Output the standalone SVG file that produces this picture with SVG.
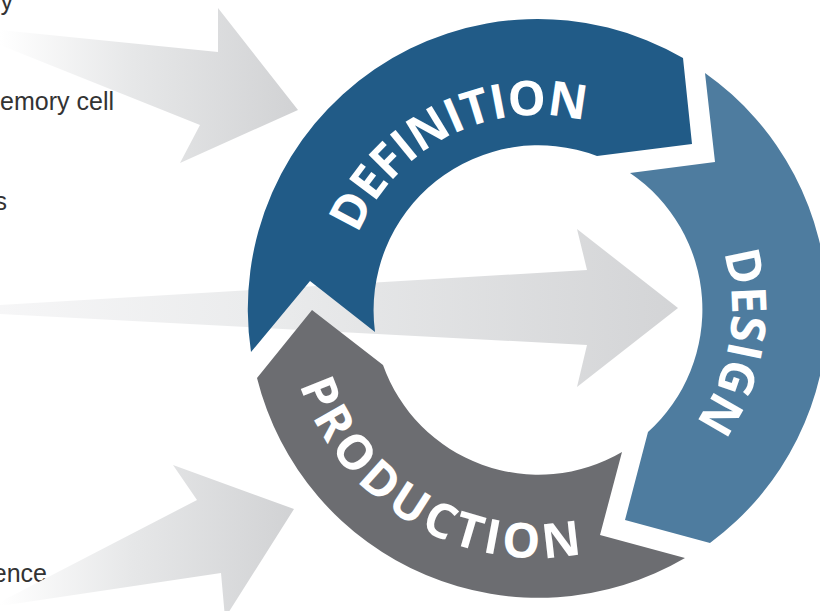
<svg xmlns="http://www.w3.org/2000/svg" width="820" height="611" viewBox="0 0 820 611">
  <defs>
    <linearGradient id="gArrow" x1="0" y1="0" x2="1" y2="0">
      <stop offset="0" stop-color="#ffffff"/>
      <stop offset="0.45" stop-color="#e6e7e8"/>
      <stop offset="1" stop-color="#d1d2d4"/>
    </linearGradient>
    <linearGradient id="gMid" x1="0" y1="0" x2="1" y2="0">
      <stop offset="0" stop-color="#f6f6f7"/>
      <stop offset="0.4" stop-color="#eaebec"/>
      <stop offset="1" stop-color="#d3d4d6"/>
    </linearGradient>
    <path id="pDef" d="M369,406 A194,194 0 0 1 440,141 A194,194 0 0 1 705,212"/>
    <path id="pDes" d="M570.9,117 A195,195 0 0 1 729,342.9 A195,195 0 0 1 503.1,501"/>
    <path id="pPro" d="M321.4,184.5 A249,249 0 0 0 412.5,524.6 A249,249 0 0 0 752.6,433.5"/>
  </defs>
  <style>
    .lbl { font-family: "Liberation Sans", Arial, sans-serif; font-size: 25px; fill: #333333; }
    .ring { font-family: "Open Sans", "DejaVu Sans", sans-serif; font-weight: 700; font-size: 48px; fill: #ffffff; }
  </style>
  <rect width="820" height="611" fill="#ffffff"/>

  <g id="labels">
    <text class="lbl" x="13" y="10" text-anchor="end">y</text>
    <text class="lbl" x="114" y="110" text-anchor="end">emory cell</text>
    <text class="lbl" x="7" y="210" text-anchor="end">s</text>
    <text class="lbl" x="47" y="582" text-anchor="end">ence</text>
  </g>

  <g id="connectors">
    <polygon fill="url(#gArrow)" points="0,30 218,52 218,8 298,110 180,163 200,125 0,45"/>
    <polygon fill="url(#gMid)" points="0,305 587,270 577,229 678,308 577,387 587,345 0,314"/>
    <polygon fill="url(#gArrow)" points="0,602 197,500 173,465 294,509 225,618 221,573 0,606"/>
  </g>

  <g id="definition">
    <path fill="#215b87" d="M251,352 A290,290 0 0 1 683,58 L692,144 L597,156 A165,165 0 0 0 375,332 L310,281 Z"/>
    <text class="ring" letter-spacing="-0.5"><textPath href="#pDef" startOffset="316" text-anchor="middle">DEFINITION</textPath></text>
  </g>

  <g id="design">
    <path fill="#4e7c9f" d="M705,73 A290,290 0 0 1 710,543 L625,520 L648,432 A165,165 0 0 0 630,173 L715,162 Z"/>
    <text class="ring" letter-spacing="0"><textPath href="#pDes" startOffset="304" text-anchor="middle">DESIGN</textPath></text>
  </g>

  <g id="production">
    <path fill="#6c6d71" d="M685,558 A290,290 0 0 1 257,378 L312,310 L383,365 A165,165 0 0 0 622,452 L600,535 Z"/>
    <text class="ring" letter-spacing="4"><textPath href="#pPro" startOffset="389" text-anchor="middle">PRODUCTION</textPath></text>
  </g>
</svg>
